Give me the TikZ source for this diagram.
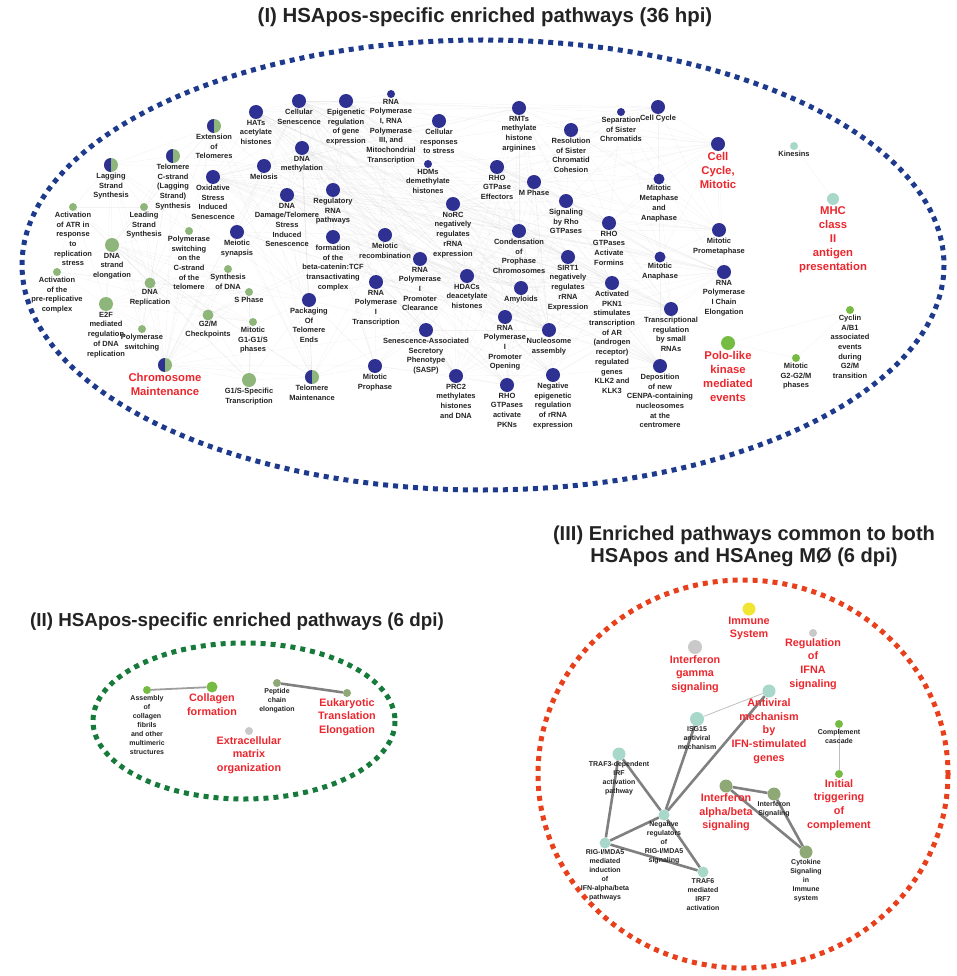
\documentclass[tikz,border=0pt]{standalone}
\usepackage{fontspec}
\setmainfont{Liberation Sans}
\usetikzlibrary{backgrounds}
\definecolor{nblue}{RGB}{46,49,146}
\definecolor{ngreen}{RGB}{143,182,122}
\definecolor{bgreen}{RGB}{118,188,67}
\definecolor{nteal}{RGB}{168,216,202}
\definecolor{nolive}{RGB}{142,168,118}
\definecolor{ngray}{RGB}{201,201,201}
\definecolor{nyellow}{RGB}{240,229,50}
\definecolor{redl}{RGB}{236,38,45}
\definecolor{ellblue}{RGB}{30,58,140}
\definecolor{ellgreen}{RGB}{21,122,58}
\definecolor{ellred}{RGB}{232,64,28}
\definecolor{txt}{RGB}{35,35,35}
\tikzset{
  pw/.style={circle, inner sep=0pt, minimum size=#1, draw=none},
  B/.style={pw=#1, fill=nblue}, B/.default=14,
  G/.style={pw=#1, fill=ngreen}, G/.default=14,
  PG/.style={pw=#1, fill=bgreen}, PG/.default=14,
  T/.style={pw=#1, fill=nteal}, T/.default=14,
  OL/.style={pw=#1, fill=nolive}, OL/.default=14,
  GR/.style={pw=#1, fill=ngray}, GR/.default=14,
  Y/.style={pw=#1, fill=nyellow}, Y/.default=14,
  H/.style={pw=#1, fill=ngreen, path picture={\fill[nblue] (path picture bounding box.south west) rectangle (path picture bounding box.north);}}, H/.default=14,
  lb/.style={font=\bfseries\fontsize{7.5}{9.7}\selectfont, align=center, text=txt, inner sep=0.6pt},
  sl/.style={font=\bfseries\fontsize{7}{9}\selectfont, align=center, text=txt, inner sep=0.6pt},
  rl/.style={font=\bfseries\fontsize{11.3}{14}\selectfont, align=center, text=redl, inner sep=0.8pt},
  rls/.style={font=\bfseries\fontsize{10.8}{13.7}\selectfont, align=center, text=redl, inner sep=0.8pt},
  mesh/.style={draw=black!35, opacity=0.13, line width=0.4pt},
  thinedge/.style={draw=black!25, line width=0.8pt},
  midedge/.style={draw=black!38, line width=1.8pt},
  thickedge/.style={draw=black!50, line width=2.6pt},
  dotring/.style={line width=5pt, dash pattern=on 5pt off 5pt},
  ttl/.style={font=\bfseries\fontsize{20.4}{22}\selectfont, text=txt, align=center}
}
\begin{document}
\begin{tikzpicture}[x=1pt,y=-1pt]
\useasboundingbox (0,0) rectangle (957,976);

% titles
\node[ttl] (t1) at (485,17) {(I) HSApos-specific enriched pathways (36 hpi)};
\node[ttl, font=\bfseries\fontsize{18.8}{22}\selectfont] (t2) at (237,622) {(II) HSApos-specific enriched pathways (6 dpi)};
\node[ttl, font=\bfseries\fontsize{20.1}{22}\selectfont] (t3) at (744,546) {(III) Enriched pathways common to both\\HSApos and HSAneg MØ (6 dpi)};

% rings
\draw[dotring, ellblue] (483,265) ellipse [x radius=461, y radius=225];
\draw[dotring, ellgreen] (244,721) ellipse [x radius=151, y radius=78];
\draw[dotring, ellred] (743,774) ellipse [x radius=205, y radius=194];

% ---------- (I) nodes
\node[H] (ext) at (214,126) [label={[lb]below:{Extension\\of\\Telomeres}}] {};
\node[B] (hats) at (256,112) [label={[lb]below:{HATs\\acetylate\\histones}}] {};
\node[B] (cellsen) at (299,101) [label={[lb]below:{Cellular\\Senescence}}] {};
\node[B] (epi) at (346,101) [label={[lb]below:{Epigenetic\\regulation\\of gene\\expression}}] {};
\node[B=8] (rnapol13) at (391,94) [label={[lb]below:{RNA\\Polymerase\\I, RNA\\Polymerase\\III, and\\Mitochondrial\\Transcription}}] {};
\node[B] (cellresp) at (439,121) [label={[lb]below:{Cellular\\responses\\to stress}}] {};
\node[B=8] (hdms) at (428,164) [label={[lb]below:{HDMs\\demethylate\\histones}}] {};
\node[B] (rmts) at (519,108) [label={[lb]below:{RMTs\\methylate\\histone\\arginines}}] {};
\node[B] (resol) at (571,130) [label={[lb]below:{Resolution\\of Sister\\Chromatid\\Cohesion}}] {};
\node[B=8] (separ) at (621,112) [label={[lb]below:{Separation\\of Sister\\Chromatids}}] {};
\node[B] (cellcyc) at (658,107) [label={[lb]below:{Cell Cycle}}] {};
\node[B] (ccmit) at (718,144) [label={[rl]below:{Cell\\Cycle,\\Mitotic}}] {};
\node[T=8] (kin) at (794,146) [label={[lb]below:{Kinesins}}] {};
\node[T=12] (mhc) at (833,199) [label={[rl]below:{MHC\\class\\II\\antigen\\presentation}}] {};
\node[H] (telc) at (173,156) [label={[lb]below:{Telomere\\C-strand\\(Lagging\\Strand)\\Synthesis}}] {};
\node[H] (lagg) at (111,165) [label={[lb]below:{Lagging\\Strand\\Synthesis}}] {};
\node[B] (dnameth) at (302,148) [label={[lb]below:{DNA\\methylation}}] {};
\node[B] (meiosis) at (264,166) [label={[lb]below:{Meiosis}}] {};
\node[B] (oxid) at (213,177) [label={[lb]below:{Oxidative\\Stress\\Induced\\Senescence}}] {};
\node[B] (dnadam) at (287,195) [label={[lb]below:{DNA\\Damage/Telomere\\Stress\\Induced\\Senescence}}] {};
\node[B] (regrna) at (333,190) [label={[lb]below:{Regulatory\\RNA\\pathways}}] {};
\node[B] (rhoeff) at (497,167) [label={[lb]below:{RHO\\GTPase\\Effectors}}] {};
\node[B] (mphase) at (534,182) [label={[lb]below:{M Phase}}] {};
\node[B] (sigrho) at (566,201) [label={[lb]below:{Signaling\\by Rho\\GTPases}}] {};
\node[B] (norc) at (453,204) [label={[lb]below:{NoRC\\negatively\\regulates\\rRNA\\expression}}] {};
\node[B=11] (metana) at (659,179) [label={[lb]below:{Mitotic\\Metaphase\\and\\Anaphase}}] {};
\node[G=8] (atr) at (73,207) [label={[lb]below:{Activation\\of ATR in\\response\\to\\replication\\stress}}] {};
\node[G=8] (leading) at (144,207) [label={[lb]below:{Leading\\Strand\\Synthesis}}] {};
\node[G=8] (polsw) at (189,231) [label={[lb]below:{Polymerase\\switching\\on the\\C-strand\\of the\\telomere}}] {};
\node[B] (msyn) at (237,232) [label={[lb]below:{Meiotic\\synapsis}}] {};
\node[G] (dnastr) at (112,245) [label={[lb]below:{DNA\\strand\\elongation}}] {};
\node[B] (betacat) at (333,237) [label={[lb]below:{formation\\of the\\beta-catenin:TCF\\transactivating\\complex}}] {};
\node[B] (meiorec) at (385,235) [label={[lb]below:{Meiotic\\recombination}}] {};
\node[B] (cond) at (519,231) [label={[lb]below:{Condensation\\of\\Prophase\\Chromosomes}}] {};
\node[B] (rhoform) at (609,223) [label={[lb]below:{RHO\\GTPases\\Activate\\Formins}}] {};
\node[B] (prometa) at (719,230) [label={[lb]below:{Mitotic\\Prometaphase}}] {};
\node[B] (rnapolclear) at (420,259) [label={[lb]below:{RNA\\Polymerase\\I\\Promoter\\Clearance}}] {};
\node[B] (sirt1) at (568,257) [label={[lb]below:{SIRT1\\negatively\\regulates\\rRNA\\Expression}}] {};
\node[B=11] (mitana) at (660,257) [label={[lb]below:{Mitotic\\Anaphase}}] {};
\node[B] (chainel) at (724,272) [label={[lb]below:{RNA\\Polymerase\\I Chain\\Elongation}}] {};
\node[G=8] (syndna) at (228,269) [label={[lb]below:{Synthesis\\of DNA}}] {};
\node[G=8] (prerep) at (57,272) [label={[lb]below:{Activation\\of the\\pre-replicative\\complex}}] {};
\node[G=11] (dnarep) at (150,283) [label={[lb]below:{DNA\\Replication}}] {};
\node[G=8] (sphase) at (249,292) [label={[lb]below:{S Phase}}] {};
\node[G] (e2f) at (106,304) [label={[lb]below:{E2F\\mediated\\regulation\\of DNA\\replication}}] {};
\node[G=11] (g2m) at (208,315) [label={[lb]below:{G2/M\\Checkpoints}}] {};
\node[B] (packtel) at (309,300) [label={[lb]below:{Packaging\\Of\\Telomere\\Ends}}] {};
\node[G=8] (polsw2) at (142,329) [label={[lb]below:{Polymerase\\switching}}] {};
\node[G=8] (g1s) at (253,322) [label={[lb]below:{Mitotic\\G1-G1/S\\phases}}] {};
\node[H] (chrom) at (165,365) [label={[rl]below:{Chromosome\\Maintenance}}] {};
\node[G] (g1stx) at (249,380) [label={[lb]below:{G1/S-Specific\\Transcription}}] {};
\node[H] (telmain) at (312,377) [label={[lb]below:{Telomere\\Maintenance}}] {};
\node[B] (rnapoltx) at (376,282) [label={[lb]below:{RNA\\Polymerase\\I\\Transcription}}] {};
\node[B] (hdacs) at (467,276) [label={[lb]below:{HDACs\\deacetylate\\histones}}] {};
\node[B] (amyl) at (521,288) [label={[lb]below:{Amyloids}}] {};
\node[B] (pkn1) at (612,283) [label={[lb]below:{Activated\\PKN1\\stimulates\\transcription\\of AR\\(androgen\\receptor)\\regulated\\genes\\KLK2 and\\KLK3}}] {};
\node[B] (rnapolopen) at (505,317) [label={[lb]below:{RNA\\Polymerase\\I\\Promoter\\Opening}}] {};
\node[B] (sasp) at (426,330) [label={[lb]below:{Senescence-Associated\\Secretory\\Phenotype\\(SASP)}}] {};
\node[B] (nucl) at (549,330) [label={[lb]below:{Nucleosome\\assembly}}] {};
\node[B] (mproph) at (375,366) [label={[lb]below:{Mitotic\\Prophase}}] {};
\node[B] (prc2) at (456,376) [label={[lb]below:{PRC2\\methylates\\histones\\and DNA}}] {};
\node[B] (rhopkn) at (507,385) [label={[lb]below:{RHO\\GTPases\\activate\\PKNs}}] {};
\node[B] (negepi) at (553,375) [label={[lb]below:{Negative\\epigenetic\\regulation\\of rRNA\\expression}}] {};
\node[B] (transreg) at (671,309) [label={[lb]below:{Transcriptional\\regulation\\by small\\RNAs}}] {};
\node[B] (cenpa) at (660,366) [label={[lb]below:{Deposition\\of new\\CENPA-containing\\nucleosomes\\at the\\centromere}}] {};
\node[PG] (polo) at (728,343) [label={[rl]below:{Polo-like\\kinase\\mediated\\events}}] {};
\node[PG=8] (g2g2m) at (796,358) [label={[lb]below:{Mitotic\\G2-G2/M\\phases}}] {};
\node[PG=8] (cyclin) at (850,310) [label={[lb]below:{Cyclin\\A/B1\\associated\\events\\during\\G2/M\\transition}}] {};

% ---------- (II) nodes
\node[PG=8] (asm) at (147,690) [label={[sl]below:{Assembly\\of\\collagen\\fibrils\\and other\\multimeric\\structures}}] {};
\node[PG=11] (coll) at (212,687) [label={[rls]below:{Collagen\\formation}}] {};
\node[OL=8] (pep) at (277,683) [label={[sl]below:{Peptide\\chain\\elongation}}] {};
\node[OL=8] (euk) at (347,693) [label={[rls]below:{Eukaryotic\\Translation\\Elongation}}] {};
\node[GR=8] (ecm) at (249,731) [label={[rls]below:{Extracellular\\matrix\\organization}}] {};

% ---------- (III) nodes
\node[Y=13] (immune) at (749,609) [label={[rls]below:{Immune\\System}}] {};
\node[GR=14] (ifng) at (695,647) [label={[rls]below:{Interferon\\gamma\\signaling}}] {};
\node[GR=8] (ifna) at (813,633) [label={[rls]below:{Regulation\\of\\IFNA\\signaling}}] {};
\node[T=13] (antiv) at (769,691) [label={[rls]below:{Antiviral\\mechanism\\by\\IFN-stimulated\\genes}}] {};
\node[T=14] (isg15) at (697,719) [label={[sl]below:{ISG15\\antiviral\\mechanism}}] {};
\node[PG=8] (compl) at (839,724) [label={[sl]below:{Complement\\cascade}}] {};
\node[T=13] (traf3) at (619,754) [label={[sl]below:{TRAF3-dependent\\IRF\\activation\\pathway}}] {};
\node[PG=8] (initial) at (839,774) [label={[rls]below:{Initial\\triggering\\of\\complement}}] {};
\node[OL=13] (ifnab) at (726,786) [label={[rls]below:{Interferon\\alpha/beta\\signaling}}] {};
\node[OL=13] (ifnsig) at (774,794) [label={[sl]below:{Interferon\\Signaling}}] {};
\node[T=11] (negreg) at (664,815) [label={[sl]below:{Negative\\regulators\\of\\RIG-I/MDA5\\signaling}}] {};
\node[T=11] (rigi) at (605,843) [label={[sl]below:{RIG-I/MDA5\\mediated\\induction\\of\\IFN-alpha/beta\\pathways}}] {};
\node[T=11] (traf6) at (703,872) [label={[sl]below:{TRAF6\\mediated\\IRF7\\activation}}] {};
\node[OL=13] (cyto) at (806,852) [label={[sl]below:{Cytokine\\Signaling\\in\\Immune\\system}}] {};

% ---------- edges
\begin{pgfonlayer}{background}
\foreach \a/\bs in {
 cellsen/{oxid,dnadam,sasp,hats,cellresp,epi,dnameth,prc2,hdacs,rmts,norc,negepi,mphase,cond,transreg,cenpa,nucl,amyl,pkn1,rnapoltx,rnapolopen,rnapolclear,chainel,meiosis,msyn,meiorec,packtel,telmain,chrom,sirt1,hdms,betacat,regrna,rhopkn,mproph,rhoeff,sigrho,ccmit,cellcyc},
 oxid/{dnadam,sasp,hats,cellresp,epi,dnameth,prc2,hdacs,rmts,norc,negepi,nucl,amyl,pkn1,mphase,cond,chrom,packtel,telmain,cenpa,meiosis,transreg,rnapoltx,sirt1,mitana,ccmit},
 dnadam/{sasp,hats,epi,dnameth,prc2,hdacs,rmts,norc,negepi,nucl,amyl,pkn1,cond,chrom,packtel,telmain,cenpa,meiosis,msyn,transreg,rnapolopen,rhopkn,prometa,chainel},
 hats/{epi,dnameth,prc2,hdacs,rmts,norc,negepi,nucl,amyl,pkn1,cond,cenpa,meiosis,transreg,sirt1,rnapoltx,rnapolclear,rhopkn,betacat,regrna},
 epi/{dnameth,prc2,hdacs,rmts,norc,negepi,nucl,amyl,pkn1,cond,cenpa,sirt1,rnapolclear,rnapolopen,chainel,rnapol13,regrna,betacat,hdms,mphase},
 dnameth/{prc2,hdacs,rmts,norc,negepi,nucl,amyl,cenpa,meiosis,msyn,meiorec,packtel,telmain,transreg,rhopkn,sirt1,mproph},
 meiosis/{msyn,meiorec,packtel,telmain,ext,telc,lagg,chrom,cond,mphase,rmts,norc,nucl,rhoeff,cellcyc},
 msyn/{meiorec,packtel,telmain,chrom,nucl,amyl,cenpa},
 regrna/{betacat,norc,sirt1,transreg,rnapoltx,rnapolclear,chainel,negepi,prc2,mphase,rhoeff},
 betacat/{hdacs,sasp,packtel,nucl,transreg,amyl,rhopkn,mproph,pkn1},
 norc/{sirt1,negepi,rnapoltx,rnapolclear,rnapolopen,chainel,prc2,hdacs,nucl,amyl,cond,cenpa,mphase,rhoeff,sigrho,rhoform,mitana,prometa,ccmit},
 rmts/{rhoeff,mphase,sigrho,cond,resol,separ,cellcyc,ccmit,metana,pkn1,rhopkn,prc2,hdacs,nucl,amyl,transreg},
 rhoeff/{mphase,sigrho,rhoform,resol,separ,cond,prometa,metana,mitana,ccmit,pkn1,rhopkn,amyl,nucl,cenpa,transreg},
 mphase/{sigrho,rhoform,resol,separ,cellcyc,ccmit,cond,prometa,metana,mitana,cenpa,mproph,nucl,amyl,pkn1,negepi,sirt1},
 sigrho/{rhoform,resol,prometa,metana,mitana,cellcyc,ccmit,pkn1,rhopkn,cond,amyl,transreg,chainel},
 cond/{sirt1,amyl,nucl,pkn1,negepi,cenpa,rhopkn,rnapolopen,mproph,prc2,hdacs,transreg,chainel,prometa,mitana},
 sirt1/{rnapolclear,rnapoltx,rnapolopen,chainel,negepi,pkn1,transreg,amyl,nucl,prc2,hdacs,cenpa},
 rhoform/{prometa,metana,mitana,resol,separ,ccmit,chainel,pkn1,transreg},
 resol/{separ,cellcyc,ccmit,metana,mitana,prometa},
 separ/{cellcyc,ccmit,metana,mitana,prometa},
 cellcyc/{ccmit,metana,prometa,mitana},
 ccmit/{prometa,metana,mitana,chainel},
 metana/{mitana,prometa,chainel,transreg},
 mitana/{prometa,chainel,transreg,pkn1,cenpa},
 prometa/{chainel},
 chainel/{transreg,pkn1,cenpa,negepi,nucl,amyl,rnapolopen},
 transreg/{cenpa,pkn1,negepi,nucl,amyl,rnapolopen,rhopkn,prc2,hdacs},
 pkn1/{cenpa,rhopkn,negepi,nucl,amyl,rnapolopen,rnapoltx,hdacs,prc2},
 rnapolclear/{rnapoltx,rnapolopen,hdacs,amyl,sasp,meiorec,nucl,prc2},
 rnapoltx/{rnapolopen,sasp,mproph,prc2,hdacs,nucl,packtel,telmain},
 hdacs/{amyl,nucl,prc2,sasp,rnapolopen,rhopkn,negepi,cenpa},
 amyl/{nucl,rnapolopen,rhopkn,negepi,prc2,cenpa},
 sasp/{prc2,mproph,nucl,negepi,rhopkn,packtel,telmain,chrom},
 nucl/{rnapolopen,rhopkn,negepi,prc2,cenpa},
 mproph/{prc2,rhopkn,packtel,telmain,chrom},
 prc2/{rhopkn,negepi}, rhopkn/{negepi}, negepi/{cenpa},
 packtel/{telmain,chrom,ext,telc,lagg,dnastr,dnarep,g1stx},
 telmain/{chrom,ext,g1stx,dnastr},
 hdms/{cellresp,epi,rnapol13}, cellresp/{rnapol13}, rnapol13/{norc,rnapoltx},
 meiorec/{packtel,telmain,nucl,amyl},
 dnastr/{lagg,leading,telc,polsw,atr,prerep,dnarep,e2f,polsw2,chrom,syndna,sphase,g2m,ext,telmain,g1s,g1stx},
 dnarep/{syndna,sphase,prerep,e2f,g2m,g1s,chrom,g1stx,atr,leading,lagg,polsw2,telc,polsw,ext},
 chrom/{ext,telc,lagg,g1stx,g2m,e2f,polsw,leading,sphase,syndna},
 lagg/{leading,telc,polsw,atr,polsw2,e2f,ext},
 telc/{polsw,leading,ext,polsw2},
 ext/{polsw,leading},
 e2f/{prerep,g1s,g1stx,sphase,syndna,polsw2,atr},
 g2m/{sphase,syndna,g1s,g1stx,atr,mphase,cellcyc},
 sphase/{syndna,g1s,g1stx,prerep},
 g1s/{g1stx,syndna,prerep},
 polsw/{polsw2,leading}, atr/{prerep,leading},
 kin/{mhc}, polo/{cyclin,g2g2m}, g2g2m/{cyclin}}
 {\foreach \b in \bs {\draw[mesh] (\a) -- (\b);}}

% (II)
\draw[midedge] (asm) -- (coll);
\draw[thickedge] (pep) -- (euk);
% (III)
\draw[thinedge] (isg15) -- (antiv);
\draw[thinedge] (compl) -- (initial);
\foreach \a/\b in {antiv/negreg, isg15/negreg, traf3/negreg, traf3/rigi, rigi/negreg, rigi/traf6, negreg/traf6, ifnab/ifnsig, ifnab/cyto, ifnsig/cyto}
 {\draw[thickedge] (\a) -- (\b);}
\end{pgfonlayer}
\end{tikzpicture}
\end{document}
